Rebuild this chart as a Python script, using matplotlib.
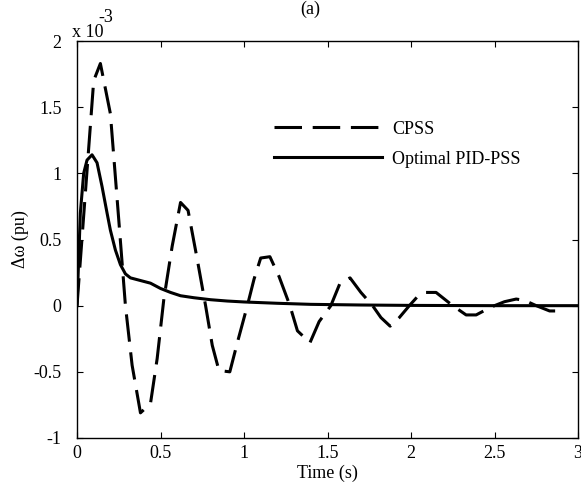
import matplotlib
matplotlib.use("Agg")
import matplotlib.pyplot as plt

plt.rcParams['font.family'] = ['Liberation Serif', 'DejaVu Serif']

# CPSS response (values in units of 1e-3 pu)
t_cpss = [0.0, 0.10, 0.14, 0.20, 0.25, 0.29, 0.33, 0.38, 0.44, 0.48, 0.52, 0.57,
          0.62, 0.665, 0.72, 0.77, 0.81, 0.85, 0.915, 0.96, 1.02, 1.06, 1.10,
          1.155, 1.21, 1.275, 1.32, 1.395, 1.45, 1.52, 1.575, 1.635, 1.70, 1.77,
          1.82, 1.875, 1.93, 1.99, 2.04, 2.09, 2.15, 2.20, 2.25, 2.33, 2.39,
          2.45, 2.50, 2.56, 2.63, 2.68, 2.75, 2.83, 2.90]
w_cpss = [0.0, 1.70, 1.83, 1.45, 0.65, 0.0, -0.45, -0.81, -0.74, -0.40, 0.05, 0.45,
          0.78, 0.72, 0.35, 0.0, -0.30, -0.49, -0.50, -0.28, 0.0, 0.20, 0.36,
          0.37, 0.22, 0.0, -0.19, -0.28, -0.12, 0.0, 0.17, 0.21, 0.10, 0.0,
          -0.09, -0.155, -0.09, 0.0, 0.07, 0.10, 0.10, 0.05, 0.0, -0.07, -0.07,
          -0.03, 0.0, 0.03, 0.05, 0.04, 0.0, -0.04, -0.04]

# Optimal PID-PSS response
t_pid = [0.0, 0.02, 0.04, 0.06, 0.09, 0.12, 0.15, 0.18, 0.20, 0.23, 0.26, 0.29,
         0.32, 0.38, 0.44, 0.50, 0.56, 0.62, 0.70, 0.80, 0.90, 1.0, 1.2, 1.4,
         1.7, 2.0, 2.5, 3.0]
w_pid = [0.0, 0.70, 1.00, 1.10, 1.14, 1.08, 0.90, 0.70, 0.57, 0.42, 0.31, 0.24,
         0.21, 0.19, 0.17, 0.13, 0.10, 0.075, 0.06, 0.045, 0.035, 0.028, 0.018,
         0.01, 0.005, 0.002, 0.0, 0.0]

xticks = [0, 0.5, 1, 1.5, 2, 2.5, 3]
yticks = [-1, -0.5, 0, 0.5, 1, 1.5, 2]

fs = 13

fig = plt.figure(figsize=(5.81, 4.88), dpi=100)
ax = fig.add_axes([77 / 581, 1 - 438 / 488, 501 / 581, 397 / 488])

ax.plot(t_cpss, w_cpss, color='black', lw=2.2, dashes=(9, 3.5), label='CPSS')
ax.plot(t_pid, w_pid, color='black', lw=2.2, label='Optimal PID-PSS')

ax.set_xlim(0, 3)
ax.set_ylim(-1, 2)
ax.set_xticks(xticks)
ax.set_xticklabels(['0', '0.5', '1', '1.5', '2', '2.5', '3'])
ax.set_yticks(yticks)
ax.set_yticklabels(['-1', '-0.5', '0', '0.5', '1', '1.5', '2'])
ax.tick_params(direction='in', top=True, right=True, labelsize=fs,
               length=4, width=0.8)
ax.tick_params(axis='x', pad=5)
ax.tick_params(axis='y', pad=11)
for s in ax.spines.values():
    s.set_linewidth(1.0)

ax.set_xlabel('Time (s)', fontsize=fs, labelpad=2)
ax.set_ylabel('Δω (pu)', fontsize=fs, labelpad=3)

ax.legend(loc='upper left', bbox_to_anchor=(0.36, 0.84), frameon=False,
          fontsize=fs, handlelength=6.0, handletextpad=0.55, labelspacing=0.72)

fig.text(72 / 581, 1 - 37 / 488, 'x 10', fontsize=fs, va='baseline')
fig.text(98 / 581, 1 - 22 / 488, '-3', fontsize=fs, va='baseline')
fig.text(310 / 581, 1 - 1 / 488, '(a)', fontsize=fs, ha='center', va='top')

fig.savefig('out.png', dpi=100)
